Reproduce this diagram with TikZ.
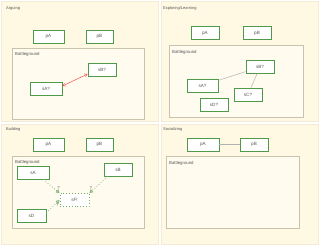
\documentclass[tikz,border=0pt]{standalone}
\usepackage{fontspec}
\setmainfont{Liberation Sans}
\usetikzlibrary{arrows.meta}
\definecolor{cream}{HTML}{FFF9E3}
\definecolor{panelline}{HTML}{F2ECD6}
\definecolor{bgline}{HTML}{C9C2AE}
\definecolor{nodegreen}{HTML}{4E9A4A}
\definecolor{txt}{HTML}{555555}
\tikzset{
  panel/.style={draw=panelline, fill=cream, line width=0.6pt},
  bground/.style={draw=bgline, fill=cream!60!white, line width=0.7pt},
  titletxt/.style={anchor=west, inner sep=0pt, text=txt, font=\fontsize{4}{5}\selectfont},
  box/.style={draw=nodegreen, fill=white, line width=0.9pt, minimum width=29pt, minimum height=13pt, inner sep=0pt, text=txt, font=\fontsize{4.6}{5.5}\selectfont},
  dotbox/.style={box, dotted, line width=0.9pt, draw=nodegreen!80!white},
  redlink/.style={draw=red!70!white, line width=0.5pt, {Straight Barb[length=2.5pt,width=3pt]}-{Straight Barb[length=2.5pt,width=3pt]}},
  graylink/.style={draw=gray!60, line width=0.5pt},
  buildlink/.style={draw=nodegreen!70!white, dotted, line width=0.8pt, -{Triangle[open,length=3.5pt,width=4pt]}},
  qlabel/.style={text=txt, font=\fontsize{4.2}{5}\selectfont, inner sep=0pt}
}
\begin{document}
\begin{tikzpicture}[x=1pt,y=-1pt]
\useasboundingbox[fill=white] (0,0) rectangle (320,246);
% panels
\path[panel] (1,1) rectangle (158,121);
\path[panel] (161,1) rectangle (318,121);
\path[panel] (1,124) rectangle (158,244);
\path[panel] (161,124) rectangle (318,244);
% titles
\node[titletxt] (t1) at (6,8) {Arguing};
\node[titletxt] (t2) at (163,8) {Exploring/Learning};
\node[titletxt] (t3) at (6,129) {Building};
\node[titletxt] (t4) at (163,129) {Socializing};
% Q1
\node[box, minimum width=31pt] (a-pA) at (48.5,36.5) {pA};
\node[box, minimum width=27pt] (a-pB) at (99.5,36.5) {pB};
\path[bground] (12,48) rectangle (144,119);
\node[titletxt, font=\fontsize{4.3}{5}\selectfont] (a-bg) at (15,54) {Battleground};
\node[box, minimum width=28pt] (a-sB) at (102,70) {sB?};
\node[box, minimum width=32pt] (a-sA) at (46,89) {sA?};
\path (a-sA.east) ++(0,-3) coordinate (a-s) (a-sB.west) ++(0,4) coordinate (a-e);
\draw[redlink] (a-s) -- (a-e);
% Q2
\node[box, minimum width=28pt] (e-pA) at (205,33) {pA};
\node[box, minimum width=28pt] (e-pB) at (257,33) {pB};
\path[bground] (169,45) rectangle (303,117);
\node[titletxt, font=\fontsize{4.3}{5}\selectfont] (e-bg) at (172,52) {Battleground};
\node[box, minimum width=28pt] (e-sB) at (260,67) {sB?};
\node[box, minimum width=31pt] (e-sA) at (202.5,85.5) {sA?};
\node[box, minimum width=28pt] (e-sC) at (248,94.5) {sC?};
\node[box, minimum width=28pt] (e-sD) at (214,104.5) {sD?};
\draw[graylink] (e-sA) -- (e-sB);
\draw[graylink] (e-sB) -- (e-sC);
% Q3
\node[box, minimum width=31pt] (b-pA) at (48.5,144.5) {pA};
\node[box, minimum width=27pt] (b-pB) at (99.5,144.5) {pB};
\path[bground] (12,156) rectangle (144,228);
\node[titletxt, font=\fontsize{4.3}{5}\selectfont] (b-bg) at (15,162) {Battleground};
\node[box, minimum width=32pt] (b-sA) at (33,172.5) {sA};
\node[box, minimum width=28pt] (b-sB) at (118,169.5) {sB};
\node[dotbox, minimum width=29pt] (b-sF) at (74.5,200) {sF!};
\node[box, minimum width=29pt] (b-sD) at (31.5,215.5) {sD};
\path (b-sA.south east) ++(-6,0) coordinate (b-a0);
\draw[buildlink] (b-a0) -- (b-sF.north west) node[qlabel, pos=0.82, above right=0.3pt] (b-q1) {?};
\path (b-sB.south west) ++(4,0) coordinate (b-b0);
\draw[buildlink] (b-b0) -- (b-sF.north east) node[qlabel, pos=0.82, above left=0.3pt] (b-q2) {?};
\path (b-sD.east) ++(0,-3) coordinate (b-d0);
\draw[buildlink] (b-d0) -- (b-sF.west) node[qlabel, pos=0.82, below=0.5pt] (b-q3) {?};
% Q4
\node[box, minimum width=32pt] (s-pA) at (203,144.5) {pA};
\node[box, minimum width=28pt] (s-pB) at (254,144.5) {pB};
\draw[graylink] (s-pA) -- (s-pB);
\path[bground] (166,156) rectangle (299,228);
\node[titletxt, font=\fontsize{4.3}{5}\selectfont] (s-bg) at (169,163) {Battleground};
\end{tikzpicture}
\end{document}
